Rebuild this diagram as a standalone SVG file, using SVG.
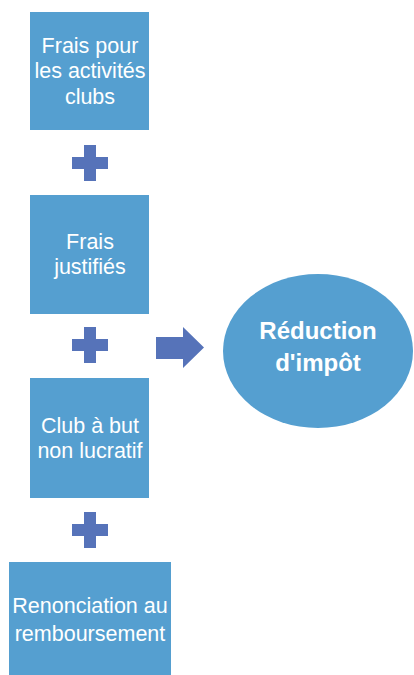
<svg xmlns="http://www.w3.org/2000/svg" width="414" height="675" viewBox="0 0 414 675">
  <style>
    .box { fill: #559fd0; }
    .lbl { fill: #ffffff; font-family: "Liberation Sans", Arial, sans-serif; font-size: 21.5px; text-anchor: middle; }
    .big { font-size: 24px; font-weight: bold; }
    .op { fill: #5673b9; }
  </style>
  <defs>
    <path id="plus" d="M-6,-18 H6 V-6 H18 V6 H6 V18 H-6 V6 H-18 V-6 H-6 Z"/>
  </defs>
  <rect width="414" height="675" fill="#ffffff"/>

  <g id="node-frais-activites">
    <rect class="box" x="30" y="12" width="119" height="118"/>
    <text class="lbl" x="90" y="53">Frais pour</text>
    <text class="lbl" x="90" y="78">les activités</text>
    <text class="lbl" x="90" y="104">clubs</text>
  </g>

  <g id="node-frais-justifies">
    <rect class="box" x="30" y="195" width="119" height="119"/>
    <text class="lbl" x="90" y="249">Frais</text>
    <text class="lbl" x="90" y="274">justifiés</text>
  </g>

  <g id="node-club">
    <rect class="box" x="30" y="378" width="119" height="120"/>
    <text class="lbl" x="90" y="433">Club à but</text>
    <text class="lbl" x="90" y="458">non lucratif</text>
  </g>

  <g id="node-renonciation">
    <rect class="box" x="9" y="562" width="162" height="113"/>
    <text class="lbl" x="90" y="613">Renonciation au</text>
    <text class="lbl" x="90" y="641">remboursement</text>
  </g>

  <g id="node-reduction">
    <ellipse class="box" cx="318" cy="351" rx="95" ry="77"/>
    <text class="lbl big" x="318" y="339">Réduction</text>
    <text class="lbl big" x="318" y="371">d'impôt</text>
  </g>

  <g id="connectors">
    <use href="#plus" class="op" x="90" y="163"/>
    <use href="#plus" class="op" x="90" y="345"/>
    <use href="#plus" class="op" x="90" y="530"/>
    <path class="op" d="M156,337 H183 V327 L204,347.5 L183,368 V359 H156 Z"/>
  </g>
</svg>
